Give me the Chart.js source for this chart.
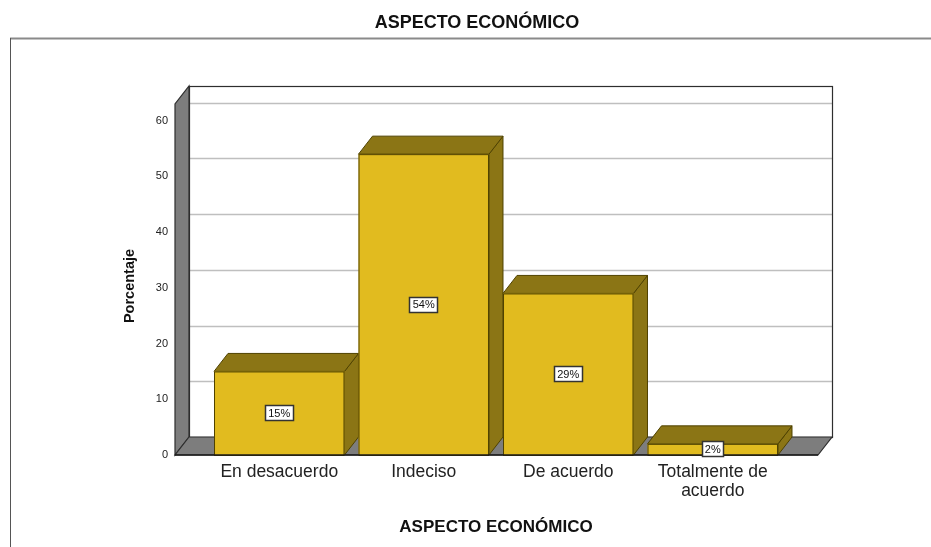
<!DOCTYPE html>
<html lang="es">
<head>
<meta charset="utf-8">
<title>ASPECTO ECONÓMICO</title>
<script src="https://cdn.jsdelivr.net/npm/chart.js@4.4.1/dist/chart.umd.min.js"></script>
<style>
  html, body { margin: 0; padding: 0; background: #fff; }
  #wrap { width: 931px; height: 547px; }
</style>
</head>
<body>
<div id="wrap"><canvas id="chart" width="931" height="547"></canvas></div>
<script>
// Datos
const categorias = ['En desacuerdo', 'Indeciso', 'De acuerdo', ['Totalmente de', 'acuerdo']];
const porcentajes = [15, 54, 29, 2];
const etiquetas = ['15%', '54%', '29%', '2%'];
const ejeMax = 63;
const ejePaso = 10;

const FONT = 'Arial, "Liberation Sans", sans-serif';

// perspectiva de la caja 3D
const PROF = { dx: 14, dy: 18 };
const MARGEN_IZQ = 32;
const MARGEN_DER = 33;

const colores = {
  frente: '#e1bb1f',
  sombra: '#8b7515',
  borde: '#4f4200',
  pared: '#7d7d7d',
  paredBorde: '#2e2e2e',
  rejilla: '#bfbfbf'
};

const caja3d = {
  id: 'caja3d',
  beforeDraw(chart) {
    const { ctx, width, height } = chart;
    ctx.save();
    ctx.fillStyle = '#fff';
    ctx.fillRect(0, 0, width, height);
    // marco exterior
    ctx.strokeStyle = '#8a8a8a';
    ctx.lineWidth = 2;
    ctx.beginPath();
    ctx.moveTo(10, 38.5);
    ctx.lineTo(width, 38.5);
    ctx.stroke();
    ctx.strokeStyle = '#555';
    ctx.lineWidth = 1;
    ctx.beginPath();
    ctx.moveTo(10.5, 38);
    ctx.lineTo(10.5, height);
    ctx.stroke();
    // título
    ctx.fillStyle = '#111';
    ctx.font = 'bold 18px ' + FONT;
    ctx.textAlign = 'center';
    ctx.textBaseline = 'middle';
    ctx.fillText('ASPECTO ECONÓMICO', 477, 23);
    // título eje Y
    ctx.translate(130, 286);
    ctx.rotate(-Math.PI / 2);
    ctx.font = 'bold 14.5px ' + FONT;
    ctx.fillText('Porcentaje', 0, 0);
    ctx.restore();
  },
  beforeDatasetsDraw(chart) {
    const { ctx, chartArea, scales: { y } } = chart;
    const x0 = chartArea.left - MARGEN_IZQ;
    const x1 = chartArea.right + MARGEN_DER;
    const top = chartArea.top;
    const base = y.getPixelForValue(0);
    const { dx, dy } = PROF;
    ctx.save();
    ctx.lineJoin = 'miter';
    // pared del fondo
    ctx.fillStyle = '#fff';
    ctx.fillRect(x0 + dx, top - dy, x1 - x0, base - top);
    // rejilla
    ctx.strokeStyle = colores.rejilla;
    ctx.lineWidth = 1.5;
    for (let v = ejePaso; v <= ejeMax; v += ejePaso) {
      const py = Math.round(y.getPixelForValue(v) - dy) + 0.5;
      ctx.beginPath();
      ctx.moveTo(x0 + dx, py);
      ctx.lineTo(x1 + dx, py);
      ctx.stroke();
    }
    ctx.strokeStyle = colores.paredBorde;
    ctx.lineWidth = 1.2;
    ctx.strokeRect(x0 + dx + 0.5, top - dy + 0.5, x1 - x0, base - top);
    // pared izquierda
    ctx.fillStyle = colores.pared;
    ctx.beginPath();
    ctx.moveTo(x0, base);
    ctx.lineTo(x0, top);
    ctx.lineTo(x0 + dx, top - dy);
    ctx.lineTo(x0 + dx, base - dy);
    ctx.closePath();
    ctx.fill();
    ctx.stroke();
    // suelo
    ctx.beginPath();
    ctx.moveTo(x0, base);
    ctx.lineTo(x1, base);
    ctx.lineTo(x1 + dx, base - dy);
    ctx.lineTo(x0 + dx, base - dy);
    ctx.closePath();
    ctx.fill();
    ctx.stroke();
    ctx.restore();
  },
  afterDatasetsDraw(chart) {
    const { ctx } = chart;
    const { dx, dy } = PROF;
    const meta = chart.getDatasetMeta(0);
    ctx.save();
    ctx.lineWidth = 1;
    ctx.strokeStyle = colores.borde;
    meta.data.forEach((bar, i) => {
      const l = bar.x - bar.width / 2;
      const r = bar.x + bar.width / 2;
      const t = bar.y;
      const b = bar.base;
      // lado derecho
      ctx.fillStyle = colores.sombra;
      ctx.beginPath();
      ctx.moveTo(r, b);
      ctx.lineTo(r, t);
      ctx.lineTo(r + dx, t - dy);
      ctx.lineTo(r + dx, b - dy);
      ctx.closePath();
      ctx.fill();
      ctx.stroke();
      // cara superior
      ctx.beginPath();
      ctx.moveTo(l, t);
      ctx.lineTo(l + dx, t - dy);
      ctx.lineTo(r + dx, t - dy);
      ctx.lineTo(r, t);
      ctx.closePath();
      ctx.fill();
      ctx.stroke();
      // cara frontal
      ctx.fillStyle = colores.frente;
      ctx.fillRect(l, t, r - l, b - t);
      ctx.strokeRect(l + 0.5, t + 0.5, r - l - 1, b - t);
    });
    // línea frontal del suelo
    const { chartArea } = chart;
    const base = chart.scales.y.getPixelForValue(0);
    ctx.strokeStyle = '#1a1a1a';
    ctx.lineWidth = 1.5;
    ctx.beginPath();
    ctx.moveTo(chartArea.left - MARGEN_IZQ, base);
    ctx.lineTo(chartArea.right + MARGEN_DER, base);
    ctx.stroke();
    // etiquetas de valor
    ctx.font = '11px ' + FONT;
    ctx.textAlign = 'center';
    ctx.textBaseline = 'middle';
    meta.data.forEach((bar, i) => {
      const txt = etiquetas[i];
      const cy = (bar.y + bar.base) / 2;
      const w = Math.ceil(ctx.measureText(txt).width) + 6;
      const h = 16;
      ctx.fillStyle = '#fff';
      ctx.fillRect(Math.round(bar.x - w / 2), Math.round(cy - h / 2), w, h);
      ctx.strokeStyle = '#333';
      ctx.strokeRect(Math.round(bar.x - w / 2) + 0.5, Math.round(cy - h / 2) + 0.5, w - 1, h - 1);
      ctx.fillStyle = '#111';
      ctx.fillText(txt, bar.x, cy + 0.5);
    });
    ctx.restore();
  }
};

new Chart(document.getElementById('chart'), {
  type: 'bar',
  data: {
    labels: categorias,
    datasets: [{
      data: porcentajes,
      backgroundColor: 'rgba(0,0,0,0)',
      borderWidth: 0,
      barPercentage: 0.903,
      categoryPercentage: 1
    }]
  },
  options: {
    responsive: false,
    animation: false,
    layout: { padding: { top: 104, right: 146, bottom: 0, left: 0 } },
    plugins: {
      legend: { display: false },
      title: { display: false },
      tooltip: { enabled: false }
    },
    scales: {
      x: {
        grid: { display: false, drawTicks: false },
        border: { display: false },
        ticks: { color: '#222', font: { family: FONT, size: 17.5, lineHeight: 1.08 }, padding: 8, maxRotation: 0, autoSkip: false },
        title: {
          display: true,
          text: 'ASPECTO ECONÓMICO',
          color: '#111',
          font: { family: FONT, size: 17, weight: 'bold' },
          padding: { top: 0, bottom: 9 }
        },
        afterFit(scale) { scale.height = 92; }
      },
      y: {
        min: 0,
        max: ejeMax,
        grid: { display: false, drawTicks: false },
        border: { display: false },
        ticks: { stepSize: ejePaso, includeBounds: false, color: '#222', font: { family: FONT, size: 11 }, padding: 39 },
        afterFit(scale) { scale.width = 207; }
      }
    }
  },
  plugins: [caja3d]
});
</script>
</body>
</html>
